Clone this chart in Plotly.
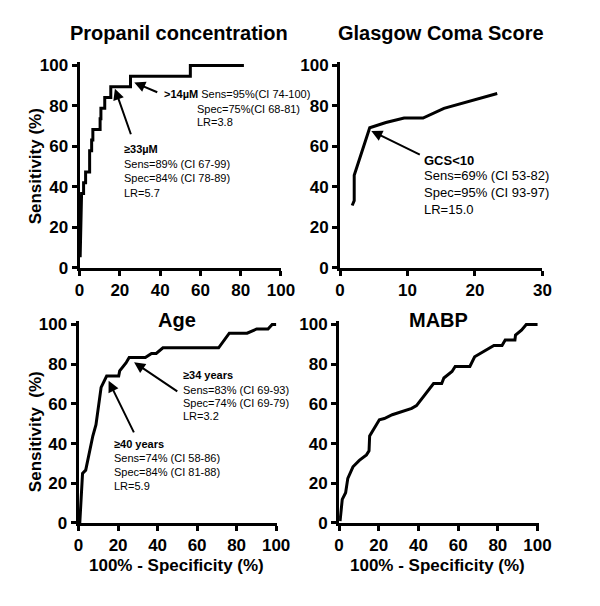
import plotly.graph_objects as go

# ---------------- data ----------------
prop_x = [0.3, 0.6, 1.0, 2.0, 2.0, 3.0, 3.0, 5.0, 5.0, 6.0, 6.0, 6.6, 6.6, 10.2, 10.2, 10.6, 10.6,
          12.5, 12.5, 15.5, 15.5, 25.3, 25.3, 55.0, 55.0, 81.6]
prop_y = [5.3, 15.8, 36.8, 36.8, 42.1, 42.1, 47.4, 47.4, 57.9, 57.9, 63.2, 63.2, 68.4, 68.4, 73.7,
          73.7, 78.9, 78.9, 84.2, 84.2, 89.5, 89.5, 94.7, 94.7, 100, 100]

gcs_x = [1.8, 2.1, 2.1, 4.4, 6.8, 9.5, 12.3, 15.4, 23.3]
gcs_y = [30.8, 33.2, 45.7, 69.2, 71.8, 74.0, 74.0, 78.8, 86.1]

age_x = [0.6, 2.0, 3.6, 5.5, 7.2, 8.8, 11.4, 14.2, 20.3, 20.8, 24.0, 25.6, 33.8, 36.9, 39.3, 42.7,
         70.9, 76.3, 85.3, 90.2, 95.9, 98.0, 100]
age_y = [0, 25.0, 26.6, 36.4, 43.8, 49.5, 68.3, 74.0, 74.0, 76.6, 80.6, 83.3, 83.3, 85.4, 85.4, 88.2,
         88.2, 95.6, 95.6, 97.7, 97.7, 100, 100]

mabp_x = [0.5, 1.6, 3.3, 4.4, 7.0, 10.2, 13.8, 15.1, 15.4, 17.9, 20.3, 22.8, 26.8, 36.6, 39.0, 47.6,
          51.7, 52.8, 56.9, 58.5, 65.9, 68.3, 78.0, 82.1, 83.7, 88.6, 88.9, 91.9, 94.3, 100]
mabp_y = [1.0, 11.9, 15.2, 22.5, 28.3, 31.5, 34.3, 36.4, 43.8, 47.9, 52.0, 52.6, 54.5, 57.7, 59.1,
          70.2, 70.2, 73.0, 76.3, 78.8, 78.8, 83.7, 89.4, 89.4, 92.2, 92.2, 94.6, 97.1, 100, 100]

titles = ["Propanil concentration", "Glasgow Coma Score", "Age", "MABP"]
ytitle_top = "Sensitivity (%)"
ytitle_bottom = "Sensitivity  (%)"
xtitle = "100% - Specificity (%)"
ticks_100 = [0, 20, 40, 60, 80, 100]
ticks_30 = [0, 10, 20, 30]

FONT = "Liberation Sans, Arial, sans-serif"
W, H = 600, 606

fig = go.Figure()

series = [(prop_x, prop_y, "x", "y"), (gcs_x, gcs_y, "x2", "y2"),
          (age_x, age_y, "x3", "y3"), (mabp_x, mabp_y, "x4", "y4")]
for xs, ys, xa, ya in series:
    fig.add_trace(go.Scatter(x=xs, y=ys, xaxis=xa, yaxis=ya, mode="lines",
                             line=dict(color="black", width=3), showlegend=False,
                             hoverinfo="skip"))

def px_dom(a, b, total):
    return [a / total, b / total]

def ydom(top_px, bottom_px):
    return [(H - bottom_px) / H, (H - top_px) / H]

axis_common = dict(showline=True, linewidth=3, linecolor="black", ticks="outside",
                   ticklen=5, tickwidth=3, tickcolor="black", showgrid=False, zeroline=False,
                   tickfont=dict(family=FONT, size=17, color="black", weight="bold"),
                   fixedrange=True)

fig.update_layout(
    xaxis=dict(domain=px_dom(77, 285, W), range=[0, 100], tickvals=ticks_100, anchor="y", **axis_common),
    yaxis=dict(domain=ydom(57.9, 269), range=[0, 101.5], tickvals=ticks_100, anchor="x", **axis_common),
    xaxis2=dict(domain=px_dom(346, 555, W), range=[0, 30], tickvals=ticks_30, anchor="y2", **axis_common),
    yaxis2=dict(domain=ydom(57.9, 269), range=[0, 101.5], tickvals=ticks_100, anchor="x2", **axis_common),
    xaxis3=dict(domain=px_dom(76, 281, W), range=[0, 100.5], tickvals=ticks_100, anchor="y3", **axis_common),
    yaxis3=dict(domain=ydom(324, 531), range=[0, 101.5], tickvals=ticks_100, anchor="x3", **axis_common),
    xaxis4=dict(domain=px_dom(345, 551, W), range=[0, 100.5], tickvals=ticks_100, anchor="y4", **axis_common),
    yaxis4=dict(domain=ydom(324, 531), range=[0, 101.5], tickvals=ticks_100, anchor="x4", **axis_common),
    width=W, height=H, margin=dict(l=0, r=0, t=0, b=0),
    paper_bgcolor="white", plot_bgcolor="white",
)

def P(px, py):
    return px / W, 1 - py / H

anns = []

def text(px, py, s, size, bold=False, xanchor="left", angle=0):
    x, y = P(px, py)
    anns.append(dict(x=x, y=y, xref="paper", yref="paper", text=s, showarrow=False,
                     xanchor=xanchor, yanchor="middle", textangle=angle, borderpad=0,
                     font=dict(family=FONT, size=size, color="black",
                               weight="bold" if bold else "normal")))

def arrow(hx, hy, tx, ty):
    x, y = P(hx, hy)
    anns.append(dict(x=x, y=y, xref="paper", yref="paper", text="", showarrow=True,
                     ax=tx - hx, ay=ty - hy, axref="pixel", ayref="pixel",
                     arrowhead=2, arrowsize=1.1, arrowwidth=2, arrowcolor="black"))

# panel titles
text(180, 28, titles[0], 20, True, "center")
text(450, 28, titles[1], 20, True, "center")
text(177.5, 323, titles[2], 20, True, "center")
text(447.5, 323, titles[3], 20, True, "center")

# axis titles
text(31.7, 165, ytitle_top, 17, True, "center", -90)
text(31.7, 437, ytitle_bottom, 17, True, "center", -90)
text(176.7, 575, xtitle, 17, True, "center")
text(446.7, 575, xtitle, 17, True, "center")

# panel 1 annotations
text(163, 90.7, "<b>>14µM</b> Sens=95%(CI 74-100)", 11)
text(197, 106, "Spec=75%(CI 68-81)", 11)
text(197, 119, "LR=3.8", 11)
text(121.7, 147, "<b>≥33µM</b>", 11)
text(121.7, 162.5, "Sens=89% (CI 67-99)", 11)
text(121.7, 177, "Spec=84% (CI 78-89)", 11)
text(121.7, 192, "LR=5.7", 11)
arrow(133.5, 78.5, 158, 89)
arrow(113.5, 85, 130, 132)

# panel 2 annotations
text(431.7, 158.3, "<b>GCS&lt;10</b>", 13)
text(431.7, 174.5, "Sens=69% (CI 53-82)", 13)
text(431.7, 192, "Spec=95% (CI 93-97)", 13)
text(431.7, 209, "LR=15.0", 13)
arrow(378.3, 128.3, 428.3, 152.7)

# panel 3 annotations
text(182.7, 379.3, "<b>≥34 years</b>", 11)
text(182.7, 394, "Sens=83% (CI 69-93)", 11)
text(182.7, 407.5, "Spec=74% (CI 69-79)", 11)
text(182.7, 421, "LR=3.2", 11)
text(111.7, 450, "<b>≥40 years</b>", 11)
text(111.7, 464.3, "Sens=74% (CI 58-86)", 11)
text(111.7, 478.3, "Spec=84% (CI 81-88)", 11)
text(111.7, 492.7, "LR=5.9", 11)
arrow(133.3, 366, 178, 396)
arrow(107, 385, 133, 438)

fig.update_layout(annotations=anns)
fig.write_html("out.html", config={"displayModeBar": False},
               post_script="document.body.style.margin='0';document.body.style.overflow='hidden';")
